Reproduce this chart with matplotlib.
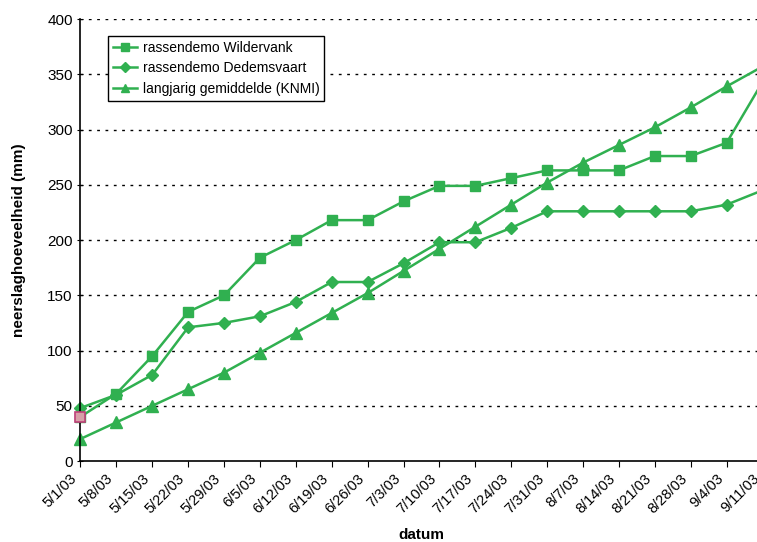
import matplotlib.pyplot as plt
import matplotlib.transforms as mtransforms
import numpy as np

plt.rcParams['font.family'] = ['Liberation Sans', 'DejaVu Sans']

dates = ['5/1/03', '5/8/03', '5/15/03', '5/22/03', '5/29/03', '6/5/03', '6/12/03',
         '6/19/03', '6/26/03', '7/3/03', '7/10/03', '7/17/03', '7/24/03', '7/31/03',
         '8/7/03', '8/14/03', '8/21/03', '8/28/03', '9/4/03', '9/11/03']

wildervank = [40, 61, 95, 135, 150, 184, 200, 218, 218, 235, 249, 249, 256, 263,
              263, 263, 276, 276, 288, 343]
dedemsvaart = [48, 60, 78, 121, 125, 131, 144, 162, 162, 179, 198, 198, 211, 226,
               226, 226, 226, 226, 232, 245]
knmi = [20, 35, 50, 65, 80, 98, 116, 134, 152, 172, 192, 212, 232, 252,
        270, 286, 302, 320, 339, 357]

green = '#30b050'
x = np.arange(len(dates))

fig = plt.figure(figsize=(7.57, 5.42), dpi=100)
# the original is cut off on the right, the last category lies just past the edge
ax = fig.add_axes([0.1063, 0.1494, 0.901, 0.8155])

ax.plot(x, wildervank, color=green, lw=1.8, marker='s', markersize=7, clip_on=False,
        label='rassendemo Wildervank')
ax.plot(x, dedemsvaart, color=green, lw=1.8, marker='D', markersize=6, clip_on=False,
        label='rassendemo Dedemsvaart')
ax.plot(x, knmi, color=green, lw=1.8, marker='^', markersize=8, clip_on=False,
        label='langjarig gemiddelde (KNMI)')
# first Wildervank point has a pink edge in the original
ax.plot(x[0], wildervank[0], marker='s', markersize=7, color='#d8a0a8', markeredgecolor='#c0407a',
        markeredgewidth=1.2, zorder=5, clip_on=False)

ax.set_xlim(0, len(dates) - 1)
ax.set_ylim(0, 400)
ax.set_yticks(np.arange(0, 401, 50))
ax.set_xticks(x)
ax.set_xticklabels([])
# date labels sit a bit left of their ticks, like the original
shift = mtransforms.ScaledTranslation(-7.5 / 72, -7.5 / 72, fig.dpi_scale_trans)
for xi, d in zip(x, dates):
    ax.text(xi, 0, d, transform=ax.get_xaxis_transform() + shift, rotation=45,
            ha='right', va='top', rotation_mode='anchor', fontsize=10.5)
ax.tick_params(axis='y', labelsize=11, length=4, direction='inout')
ax.tick_params(axis='x', length=4)

for v in range(50, 401, 50):
    ax.axhline(v, color='black', lw=1, linestyle=(0, (2, 4)), zorder=0)

ax.spines['top'].set_visible(False)
ax.spines['right'].set_visible(False)
ax.spines['left'].set_linewidth(1.2)
ax.spines['bottom'].set_linewidth(1.2)

ax.set_xlabel('datum', fontweight='bold', fontsize=11, labelpad=41)
ax.set_ylabel('neerslaghoeveelheid (mm)', fontweight='bold', fontsize=11, labelpad=15)

leg = ax.legend(loc='upper left', bbox_to_anchor=(0.0405, 0.962), fontsize=10, fancybox=False,
                framealpha=1, edgecolor='black', borderpad=0.35, labelspacing=0.48,
                handlelength=1.7, handletextpad=0.45, borderaxespad=0, markerscale=0.8)
leg.get_frame().set_linewidth(1)

fig.savefig('out.png', dpi=100)
